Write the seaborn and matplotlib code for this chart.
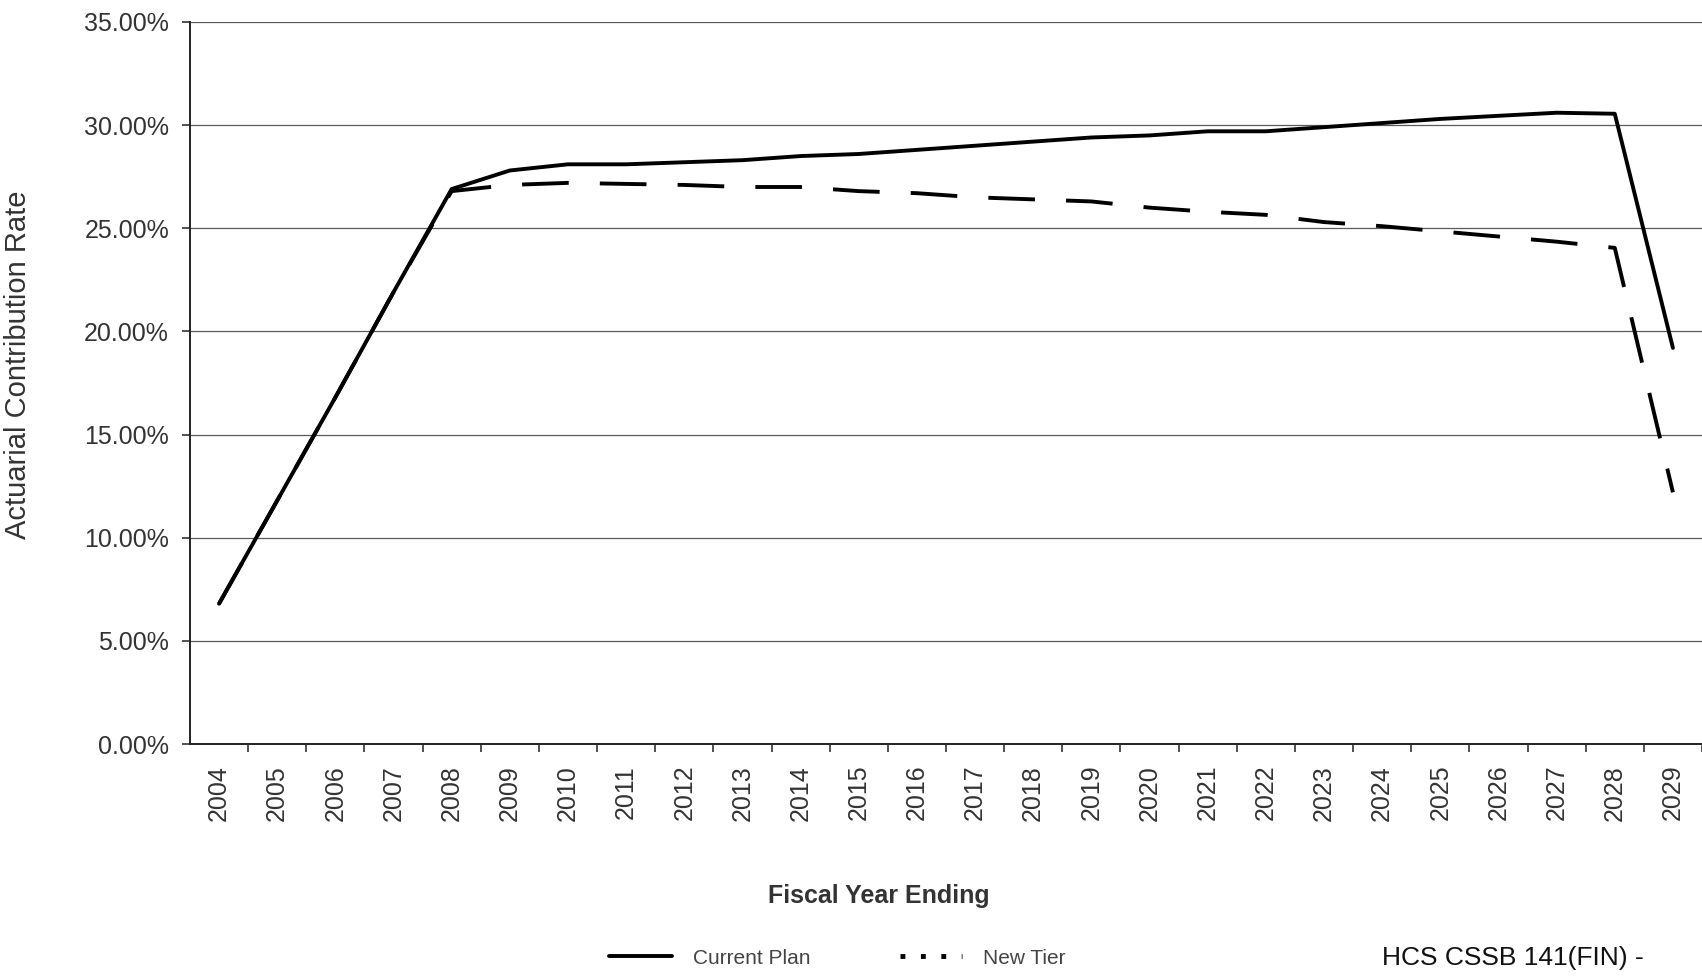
import pandas as pd
import matplotlib
matplotlib.use("Agg")
import matplotlib.pyplot as plt
import seaborn as sns
from matplotlib.lines import Line2D
from matplotlib.ticker import FuncFormatter

# Data
years = list(range(2004, 2030))
current_plan = [6.8, 11.8, 16.8, 21.9, 26.9, 27.8, 28.1, 28.1, 28.2, 28.3,
                28.5, 28.6, 28.8, 29.0, 29.2, 29.4, 29.5, 29.7, 29.7, 29.9,
                30.1, 30.3, 30.45, 30.6, 30.55, 19.2]
new_tier = [6.8, 11.8, 16.8, 21.9, 26.8, 27.1, 27.2, 27.15, 27.1, 27.0,
            27.0, 26.8, 26.7, 26.5, 26.4, 26.3, 26.0, 25.8, 25.65, 25.3,
            25.1, 24.85, 24.6, 24.35, 24.05, 12.2]
y_ticks = [0, 5, 10, 15, 20, 25, 30, 35]

df = pd.DataFrame({
    "year": years * 2,
    "rate": current_plan + new_tier,
    "series": ["Current Plan"] * len(years) + ["New Tier"] * len(years),
})

sns.set_theme(style="white")
plt.rcParams["font.family"] = ["Liberation Sans", "DejaVu Sans"]

fig = plt.figure(figsize=(17.02, 9.76), dpi=100)
ax = fig.add_axes([0.1116, 0.2377, 0.8884, 0.7398])

sns.lineplot(data=df, x="year", y="rate", hue="series", style="series",
             palette={"Current Plan": "black", "New Tier": "black"},
             dashes={"Current Plan": "", "New Tier": (12, 8)},
             linewidth=2.8, legend=False, ax=ax)

ax.set_xlim(years[0] - 0.5, years[-1] + 0.5)
ax.set_ylim(y_ticks[0], y_ticks[-1])
ax.set_yticks(y_ticks)
ax.yaxis.set_major_formatter(FuncFormatter(lambda v, p: f"{v:.2f}%"))
ax.grid(axis="y", color="#5a5a5a", linewidth=0.9)
ax.set_axisbelow(True)

ax.set_xticks(years)
ax.set_xticklabels([str(y) for y in years], rotation=90)
ax.set_xticks([y + 0.5 for y in years], minor=True)
ax.tick_params(axis="x", which="major", length=0, pad=15, labelsize=18, labelcolor="#333333")
ax.tick_params(axis="x", which="minor", length=6, width=1.2, color="#333333", direction="out", bottom=True)
ax.tick_params(axis="y", length=6, width=1.2, color="#333333", direction="out", left=True,
               pad=9, labelsize=18, labelcolor="#333333")

for side in ["top", "right"]:
    ax.spines[side].set_visible(False)
for side in ["left", "bottom"]:
    ax.spines[side].set_color("#222222")
    ax.spines[side].set_linewidth(1.4)

ax.set_xlabel("")
ax.set_ylabel("")

fig.text(0.019, 0.805, "Actuarial Contribution Rate", rotation=90, ha="right", va="top",
         fontsize=21, color="#333333")
fig.text(0.5165, 0.082, "Fiscal Year Ending", ha="center", va="center",
         fontsize=18, fontweight="bold", color="#333333")

handles = [Line2D([], [], color="black", linewidth=2.8),
           Line2D([], [], color="black", linewidth=3.5, linestyle=(0, (1, 3.2)))]
fig.legend(handles, ["Current Plan", "New Tier"], loc="center", bbox_to_anchor=(0.492, 0.0184),
           ncol=2, frameon=False, fontsize=15, handlelength=3.0, handletextpad=1.0,
           columnspacing=4.3, labelcolor="#444444")

fig.text(0.812, 0.0184, "HCS CSSB 141(FIN) -", ha="left", va="center",
         fontsize=19, color="#111111")

fig.savefig("out.png", dpi=100)
